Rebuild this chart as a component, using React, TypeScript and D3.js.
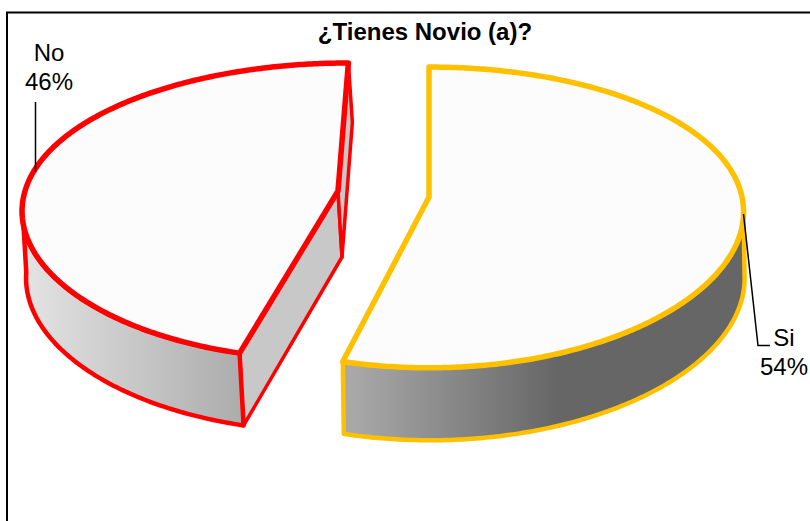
import React from "react";
import * as d3 from "d3";

const categories = ["Si", "No"];
const values = [54, 46];
const percentLabels = ["54%", "46%"];
const titleText = "¿Tienes Novio (a)?";
const strokeColors = ["#ffc000", "#ff0000"];

const W = 810, H = 521;
const R = 313, RY = 147.6, K = 0.1357, KX = 0.1;

type Geo = { cx: number; cy: number; shear: number; dx: number; ry: number };
const geos: Geo[] = [
  { cx: 429, cy: 197, shear: 0, dx: 1, ry: 1 },
  { cx: 338, cy: 191, shear: -11.4, dx: 4, ry: 0.985 },
];

function topPt(g: Geo, a: number): [number, number] {
  const u = Math.sin(a), v = -Math.cos(a);
  const s = 1 / (1 - K * v);
  const sx = 1 / (1 - KX * v);
  return [g.cx + (R * u + g.shear * v) * sx, g.cy + RY * g.ry * v * s];
}
function botPt(g: Geo, a: number): [number, number] {
  const v = -Math.cos(a);
  const [x, y] = topPt(g, a);
  return [x + g.dx, y + 66 + 6.5 * v];
}
const line = d3.line();

export default function App() {
  const arcs = d3.pie<number>().sort(null)(values);
  return (
    <svg width={W} height={H} style={{ position: "absolute", left: 0, top: 0 }} fontFamily="'Liberation Sans', Arial, sans-serif">
      <defs>
        <linearGradient id="wall" gradientUnits="userSpaceOnUse" x1={22} x2={745} y1={0} y2={0}>
          <stop offset="0" stopColor="#e4e4e4" />
          <stop offset="0.3" stopColor="#adadad" />
          <stop offset="0.46" stopColor="#a8a8a8" />
          <stop offset="0.74" stopColor="#666666" />
          <stop offset="1" stopColor="#666666" />
        </linearGradient>
      </defs>
      <rect x={7} y={12.5} width={W + 10} height={H + 10} fill="#fff" stroke="#000" strokeWidth={2} />
      {arcs.map((d, i) => {
        const g = geos[i];
        const col = strokeColors[i];
        const ang = d3.range(d.startAngle, d.endAngle, 0.01).concat([d.endAngle]);
        const top = ang.map((a) => topPt(g, a));
        const vis = ang.filter((a) => -Math.cos(a) >= 0.09);
        const wallPts = [...vis.map((a) => topPt(g, a)), ...[...vis].reverse().map((a) => botPt(g, a))];
        const centre: [number, number] = [g.cx, g.cy];
        const centreB: [number, number] = [g.cx + g.dx, g.cy + 66];
        const faces: [number, number][][] = i === 1
          ? [
              [centre, topPt(g, d.startAngle), botPt(g, d.startAngle), centreB],
              [centre, topPt(g, d.endAngle), botPt(g, d.endAngle), centreB],
            ]
          : [];
        return (
          <g key={categories[i]} strokeLinejoin="round">
            {faces.map((f, j) => (
              <path key={j} d={line(f)! + "Z"} fill="#c8c8c8" stroke={col} strokeWidth={3.5} />
            ))}
            <path d={line(wallPts)! + "Z"} fill="url(#wall)" stroke={col} strokeWidth={4.5} />
            <path d={line([centre, ...top])! + "Z"} fill="#fcfcfc" stroke={col} strokeWidth={5.5} />
          </g>
        );
      })}
      <g stroke="#000" strokeWidth={1.5} fill="none">
        <path d="M35.5,102V172" />
        <path d="M743.5,214L758,345.5H770" />
      </g>
      <text x={425} y={40} textAnchor="middle" fontSize={24} fontWeight="bold" fill="#000">{titleText}</text>
      <g fontSize={24} fill="#000" textAnchor="middle">
        <text x={49} y={61}>{categories[1]}</text>
        <text x={49} y={90}>{percentLabels[1]}</text>
        <text x={784} y={346}>{categories[0]}</text>
        <text x={784} y={375}>{percentLabels[0]}</text>
      </g>
    </svg>
  );
}
